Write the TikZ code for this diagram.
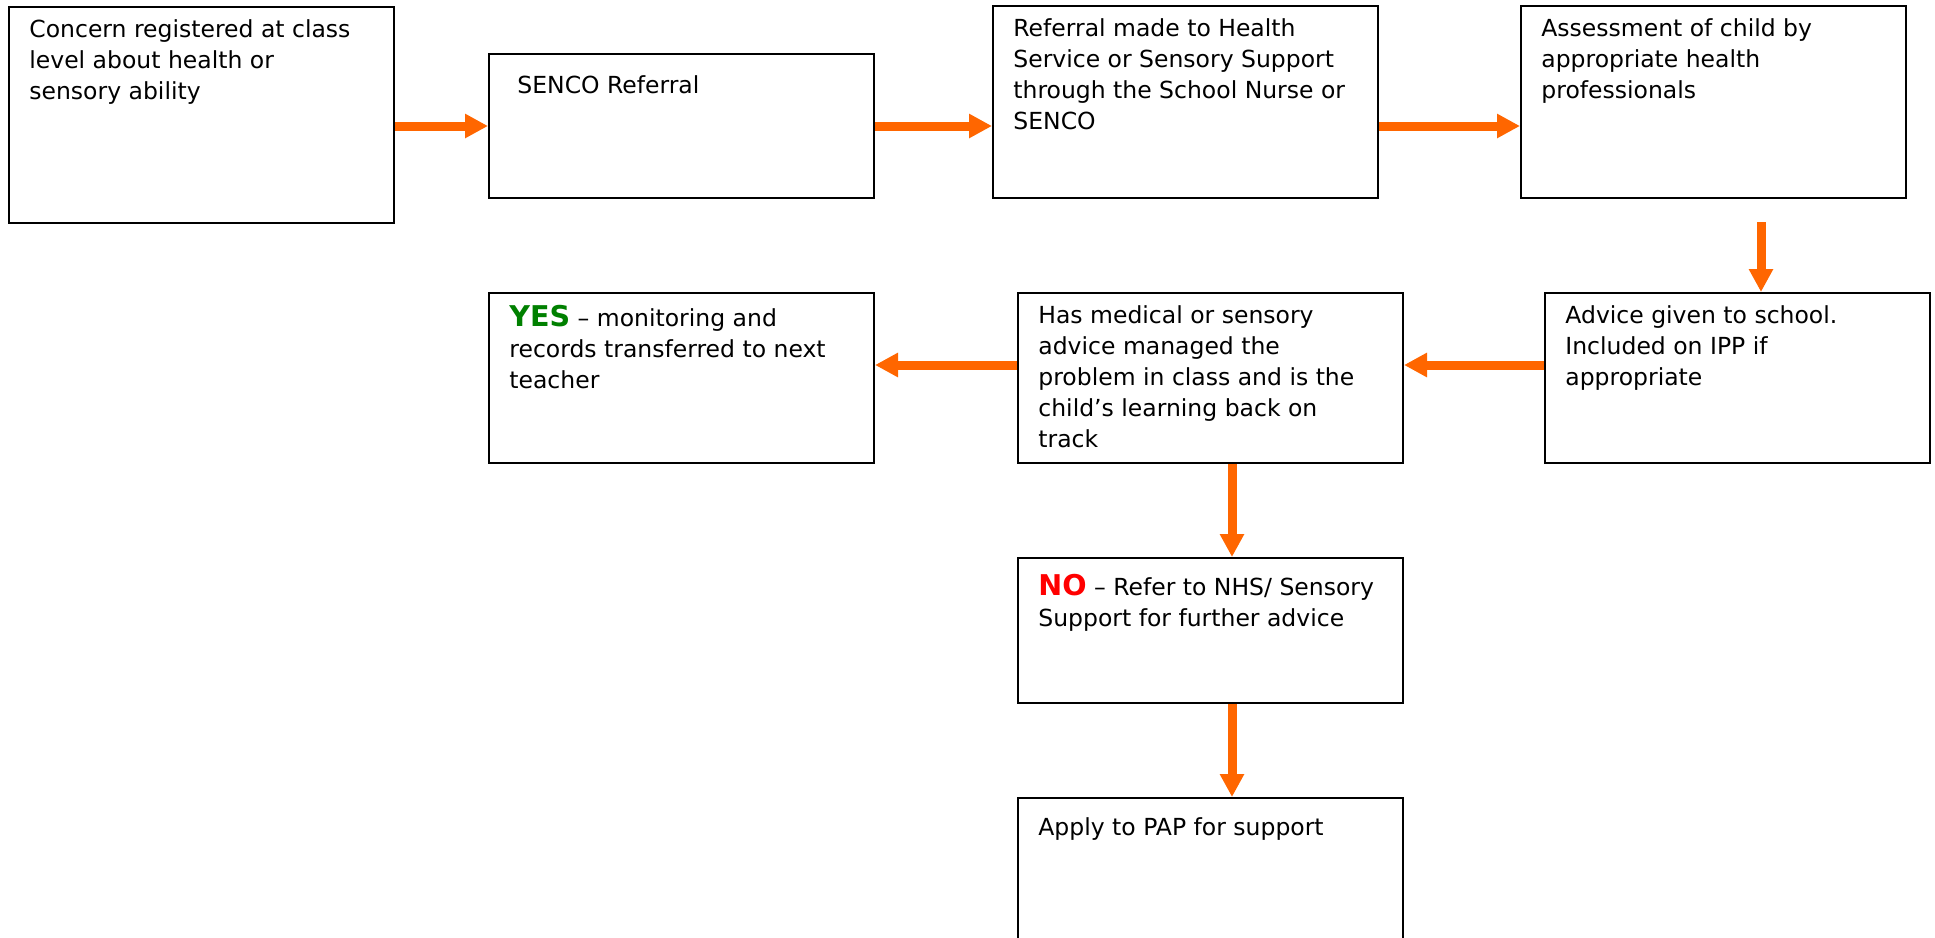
\documentclass[tikz,border=0pt]{standalone}
\usepackage{fontspec}
\setmainfont{DejaVu Sans}
\usetikzlibrary{arrows.meta}
\definecolor{floworange}{RGB}{255,102,0}
\definecolor{yesgreen}{RGB}{0,128,0}
\definecolor{nored}{RGB}{255,0,0}
\newcommand{\answer}[2]% colour, word
{{\color{#1}\bfseries\fontsize{14.3}{15.5}\selectfont #2}}
\tikzset{
  box/.style={draw,line width=1pt,anchor=north west,minimum width=192.5pt,inner sep=0pt},
  boxtext/.style={anchor=north west,align=left,inner sep=0pt,xshift=10.5pt,yshift=-6.6pt,
    font=\fontsize{11.75}{15.5}\selectfont,execute at begin node=\strut},
  flow/.style={draw=floworange,line width=4.5pt,-{Triangle[length=11.5pt,width=11.5pt]}}
}
\begin{document}
\begin{tikzpicture}[x=0.5pt,y=-0.5pt]
  \useasboundingbox (0,0) rectangle (1935,938);
  % top row
  \node[box,minimum height=108pt] (concern) at (8,6) {};
  \node[box,minimum height=72pt] (senco) at (488,53) {};
  \node[box,minimum height=96pt] (referral) at (992,5) {};
  \node[box,minimum height=96pt] (assess) at (1520,5) {};
  % middle row
  \node[box,minimum height=85pt] (advice) at (1544,292) {};
  \node[box,minimum height=85pt] (medical) at (1017,292) {};
  \node[box,minimum height=85pt] (yes) at (488,292) {};
  % bottom column
  \node[box,minimum height=72.5pt] (no) at (1017,557) {};
  \node[box,minimum height=75pt] (apply) at (1017,797) {};

  \node[boxtext] (concern-t) at (concern.north west) {Concern registered at class\\level about health or\\sensory ability};
  \node[boxtext,xshift=4pt,yshift=-2.5pt] (senco-t) at (senco.north west) {SENCO Referral};
  \node[boxtext] (referral-t) at (referral.north west) {Referral made to Health\\Service or Sensory Support\\through the School Nurse or\\SENCO};
  \node[boxtext] (assess-t) at (assess.north west) {Assessment of child by\\appropriate health\\professionals};
  \node[boxtext] (advice-t) at (advice.north west) {Advice given to school.\\Included on IPP if\\appropriate};
  \node[boxtext] (medical-t) at (medical.north west) {Has medical or sensory\\advice managed the\\problem in class and is the\\child’s learning back on\\track};
  \node[boxtext] (yes-t) at (yes.north west) {\answer{yesgreen}{YES} – monitoring and\\records transferred to next\\teacher};
  \node[boxtext,yshift=-2pt] (no-t) at (no.north west) {\answer{nored}{NO} – Refer to NHS/ Sensory\\Support for further advice};
  \node[boxtext,yshift=-1.5pt] (apply-t) at (apply.north west) {Apply to PAP for support};

  \coordinate (drop) at (1761,222);
  \coordinate (row2) at (0,365);
  \coordinate (col) at (1232,0);
  \draw[flow] (concern.east |- senco.west) -- (senco.west);
  \draw[flow] (senco.east) -- (referral.west |- senco.east);
  \draw[flow] (referral.east |- senco.east) -- (assess.west |- senco.east);
  \draw[flow] (drop) -- (drop |- advice.north);
  \draw[flow] (advice.west |- row2) -- (medical.east |- row2);
  \draw[flow] (medical.west |- row2) -- (yes.east |- row2);
  \draw[flow] (medical.south -| col) -- (no.north -| col);
  \draw[flow] (no.south -| col) -- (apply.north -| col);
\end{tikzpicture}
\end{document}
